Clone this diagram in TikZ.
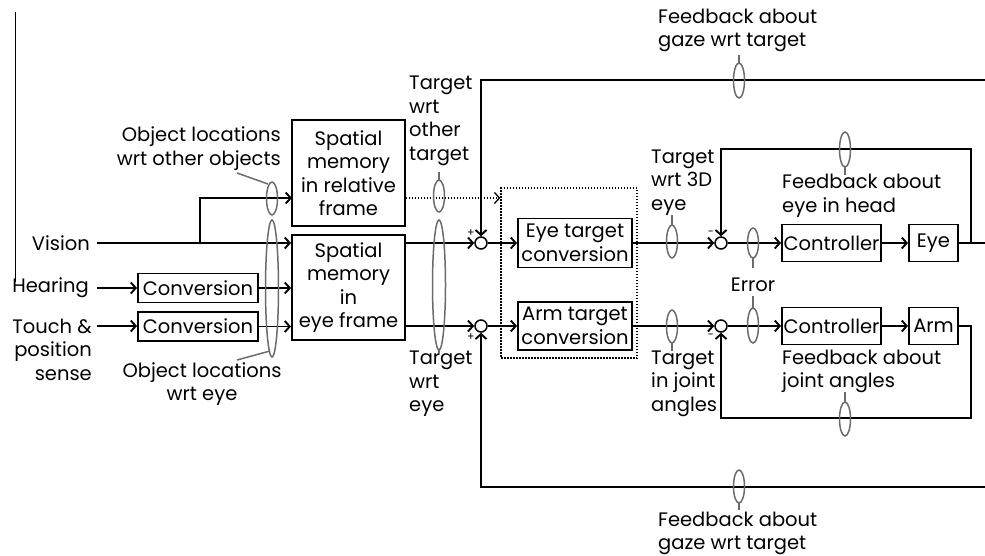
\documentclass[tikz,border=0pt]{standalone}
\usepackage{fontspec}
\setmainfont{Poppins}
\usetikzlibrary{arrows.meta}
\newcommand\fs{\fontsize{19.5}{23.5}\selectfont}
\begin{document}
\begin{tikzpicture}[x=1pt,y=-1pt,
  ln/.style={line width=1.9pt},
  arr/.style={ln,-{Straight Barb[length=5pt,width=11pt]}},
  dotarr/.style={line width=1.3pt,dash pattern=on 1.5pt off 1.5pt,-{Straight Barb[length=5pt,width=11pt,line width=1.3pt]}},
  box/.style={draw,line width=1.9pt,inner sep=0pt,align=center,font=\fs},
  txt/.style={inner sep=0pt,font=\fs},
  sum/.style={draw,circle,line width=1.5pt,minimum size=12pt,inner sep=0pt},
  ell/.style={draw=black!58,line width=1.5pt},
  tick/.style={draw=black!58,line width=1.5pt},
  sgn/.style={inner sep=0pt,font=\fontsize{11}{11}\selectfont}]

\useasboundingbox (0,0) rectangle (985,555);

% frame edge on the left
\draw[line width=0.9pt] (15,12) -- (15,282);

% processing blocks
\node[box,minimum width=113pt,minimum height=106pt] (rel) at (348.5,173) {Spatial\\memory\\in relative\\frame};
\node[box,minimum width=113pt,minimum height=105pt] (eyef) at (348.5,287.5) {Spatial\\memory\\in\\eye frame};
\node[box,minimum width=120pt,minimum height=29pt] (cv1) at (198,288) {Conversion};
\node[box,minimum width=120pt,minimum height=29pt] (cv2) at (198,326.5) {Conversion};
\node[draw,line width=1.3pt,dash pattern=on 1.5pt off 1.5pt,minimum width=136pt,minimum height=170pt,inner sep=0pt] (grp) at (569,273) {};
\node[box,minimum width=114pt,minimum height=49pt] (eyet) at (575,243) {Eye target\\conversion};
\node[box,minimum width=114pt,minimum height=48pt] (armt) at (575,326) {Arm target\\conversion};
\node[box,minimum width=99pt,minimum height=37pt] (c1) at (831.5,243) {Controller};
\node[box,minimum width=49pt,minimum height=37pt] (eye) at (933.5,243) {Eye};
\node[box,minimum width=99pt,minimum height=37pt] (c2) at (831.5,326) {Controller};
\node[box,minimum width=49pt,minimum height=37pt] (arm) at (933.5,326) {Arm};

% summing junctions and their signs
\node[sum] (s1) at (481,243) {};
\node[sum] (s2) at (481,326) {};
\node[sum] (s3) at (721,243) {};
\node[sum] (s4) at (721,326) {};
\node[sgn] (p1) at (471,233) {+};
\node[sgn] (p2) at (471,337) {+};
\node[sgn] (m1) at (711,233) {-};
\node[sgn] (m2) at (711,336) {-};

% inputs
\node[txt,anchor=east] (vis) at (90,243) {Vision};
\node[txt,anchor=east] (hear) at (89,288) {Hearing};
\node[txt,anchor=east,align=right] (touch) at (92,349.5) {Touch \&\\position\\sense};

\coordinate (vin) at (97,243);
\coordinate (hin) at (97,288);
\coordinate (tin) at (97,326);
\coordinate (vb) at (200,243);
\coordinate (relin) at (292,198);
\coordinate (eloop) at (971,243);
\coordinate (eout) at (985,243);
\coordinate (etop) at (971,149);
\coordinate (abot) at (971,418);
\coordinate (gtop) at (985,80);
\coordinate (gbot) at (985,487);

% signal paths
\draw[arr] (vin) -- (vin -| eyef.west);
\draw[arr] (vb) |- (relin);
\draw[arr] (hin) -- (hin -| cv1.west);
\draw[arr] (cv1.east) -- (cv1.east -| eyef.west);
\draw[arr] (tin) -- (tin -| cv2.west);
\draw[arr] (cv2.east) -- (cv2.east -| eyef.west);
\draw[arr] (eyef.east |- s1) -- (s1.west);
\draw[arr] (eyef.east |- s2) -- (s2.west);
\draw[dotarr] (rel.east |- relin) -- (grp.west |- relin);
\draw[arr] (s1.east) -- (eyet.west);
\draw[arr] (s2.east) -- (armt.west);
\draw[arr] (eyet.east) -- (s3.west);
\draw[arr] (armt.east) -- (s4.west);
\draw[arr] (s3.east) -- (c1.west);
\draw[arr] (c1.east) -- (eye.west);
\draw[arr] (s4.east) -- (c2.west);
\draw[arr] (c2.east) -- (arm.west);
\draw[ln] (eye.east) -- (eout);
\draw[arr] (eloop) -- (etop) -| (s3.north);
\draw[arr] (arm.east) -| (abot) -| (s4.south);
\draw[arr] (gtop) -| (s1.north);
\draw[arr] (gbot) -| (s2.south);

% signal bundles
\draw[ell] (272,198.5) ellipse (5.5 and 16.5);
\draw[ell] (272,288.5) ellipse (6.5 and 68.5);
\draw[ell] (439,196) ellipse (5.5 and 16);
\draw[ell] (439,285) ellipse (6.5 and 65);
\draw[ell] (672,241.5) ellipse (5.5 and 16.5);
\draw[ell] (672,326.5) ellipse (5.5 and 16.5);
\draw[ell] (753,243) ellipse (5.5 and 15);
\draw[ell] (753,325.5) ellipse (5.5 and 17.5);
\draw[ell] (845,149.5) ellipse (5.5 and 17.5);
\draw[ell] (845,419) ellipse (5.5 and 17);
\draw[ell] (739,80.5) ellipse (5.5 and 17.5);
\draw[ell] (739,486.5) ellipse (5.5 and 16.5);

% bundle labels
\node[txt,anchor=east,align=right] (olo) at (281,148.5) {Object locations\\wrt other objects};
\node[txt,align=center] (ole) at (202,384) {Object locations\\wrt eye};
\node[txt,anchor=west,align=left] (two) at (409,121) {Target\\wrt\\other\\target};
\node[txt,anchor=west,align=left] (twe) at (409,384) {Target\\wrt\\eye};
\node[txt,anchor=west,align=left] (t3d) at (651,182.5) {Target\\wrt 3D\\eye};
\node[txt,anchor=west,align=left] (tja) at (651,383.5) {Target\\in joint\\angles};
\node[txt] (err) at (753,285) {Error};
\node[txt,anchor=west,align=left] (feh) at (782,196) {Feedback about\\eye in head};
\node[txt,anchor=west,align=left] (fja) at (782,371.5) {Feedback about\\joint angles};
\node[txt,anchor=west,align=left] (fgt) at (658,30.5) {Feedback about\\gaze wrt target};
\node[txt,anchor=west,align=left] (fgb) at (658,533.5) {Feedback about\\gaze wrt target};

% leader ticks
\draw[tick] (268,184) -- (237,173);
\draw[tick] (270,351) -- (237,360);
\draw[tick] (439,180) -- (439,172);
\draw[tick] (439,350) -- (439,353);
\draw[tick] (672,225) -- (672,215);
\draw[tick] (672,343) -- (672,351);
\draw[tick] (753,258) -- (753,268);
\draw[tick] (753,296) -- (753,308);
\draw[tick] (845,167) -- (845,175);
\draw[tick] (845,402) -- (845,392);
\draw[tick] (739,63) -- (739,55);
\draw[tick] (739,503) -- (739,510);
\end{tikzpicture}
\end{document}
